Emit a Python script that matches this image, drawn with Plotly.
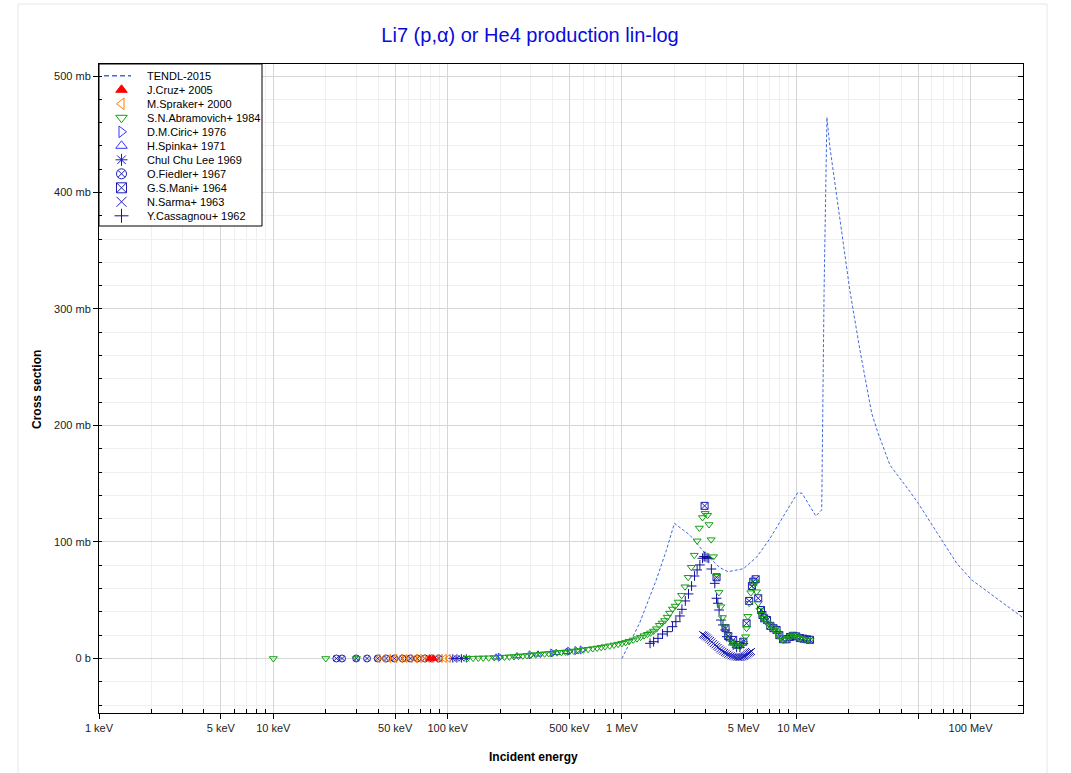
import plotly.graph_objects as go

# ---------------------------------------------------------------------------
# Li-7(p,alpha) / He-4 production: incident energy in eV, cross section in b
# ---------------------------------------------------------------------------

# TENDL-2015 evaluation
tendl_e = [1.00e6, 1.26e6, 1.57e6, 1.80e6, 2.00e6, 2.45e6, 3.05e6, 3.64e6, 4.06e6,
           4.97e6, 5.93e6, 7.07e6, 8.43e6, 9.62e6, 1.02e7, 1.08e7, 1.20e7, 1.296e7,
           1.40e7, 1.413e7, 1.445e7, 1.50e7, 1.527e7, 1.56e7, 2.03e7, 2.32e7, 2.71e7,
           2.95e7, 3.45e7, 3.94e7, 4.49e7, 5.01e7, 6.98e7, 8.33e7, 1.016e8, 1.294e8,
           1.92e8, 2.00e8]
tendl_xs = [0.0, 0.030, 0.067, 0.093, 0.116, 0.106, 0.089, 0.078, 0.0745,
            0.077, 0.087, 0.103, 0.122, 0.136, 0.1423, 0.1418, 0.130, 0.1223,
            0.1275, 0.202, 0.316, 0.4645, 0.4536, 0.439, 0.316, 0.2648, 0.2105,
            0.1933, 0.166, 0.1547, 0.1432, 0.1332, 0.0989, 0.0817, 0.0674, 0.056,
            0.0373, 0.035]

# J.Cruz+ 2005
cruz_e = [7.9e4, 8.3e4]
cruz_xs = [0.00002, 0.00003]

# M.Spraker+ 2000
spraker_e = [4.0e4, 4.3e4, 4.6e4, 5.0e4, 5.37e4, 5.7e4, 6.1e4, 6.5e4, 6.9e4, 7.3e4,
             7.7e4, 8.1e4, 8.6e4, 9.1e4, 9.6e4, 1.01e5]
spraker_xs = [0.000001, 0.000002, 0.000002, 0.000003, 0.000004, 0.000005, 0.000006,
              0.000008, 0.00001, 0.000012, 0.000015, 0.000018, 0.000022, 0.000027,
              0.000032, 0.00004]

# S.N.Abramovich+ 1984
abr_e = [1.0e4, 2.0e4, 3.0e4, 1.30e5, 1.40e5, 1.50e5, 1.60e5, 1.72e5, 1.85e5, 1.98e5,
         2.12e5, 2.26e5, 2.40e5, 2.55e5, 2.70e5, 2.85e5, 3.00e5, 3.20e5, 3.40e5, 3.60e5,
         3.80e5, 4.00e5, 4.25e5, 4.50e5, 4.75e5, 5.00e5, 5.30e5, 5.60e5, 6.00e5, 6.40e5,
         6.80e5, 7.20e5, 7.60e5, 8.00e5, 8.50e5, 9.00e5, 9.50e5,
         1.00e6, 1.05e6, 1.10e6, 1.16e6, 1.22e6, 1.28e6, 1.34e6, 1.40e6, 1.46e6, 1.52e6,
         1.58e6, 1.64e6, 1.70e6, 1.76e6, 1.82e6, 1.88e6, 1.95e6, 2.02e6, 2.10e6, 2.20e6,
         2.30e6, 2.40e6, 2.50e6, 2.60e6, 2.70e6, 2.78e6, 2.90e6, 3.00e6, 3.10e6, 3.16e6,
         3.25e6, 3.35e6, 3.49e6, 3.60e6, 3.69e6, 3.77e6, 3.89e6, 4.07e6, 4.25e6, 4.40e6,
         4.55e6, 4.75e6, 4.97e6, 5.12e6, 5.19e6, 5.28e6, 5.37e6, 5.49e6, 5.67e6, 5.79e6,
         5.92e6, 6.05e6, 6.19e6, 6.30e6, 6.47e6, 6.60e6, 6.80e6, 7.07e6, 7.30e6, 7.50e6,
         7.71e6, 7.90e6, 8.10e6, 8.42e6, 8.70e6, 9.00e6, 9.30e6, 9.61e6, 9.90e6, 1.02e7,
         1.05e7, 1.10e7, 1.15e7, 1.20e7]
abr_xs_mb = [0.0, 0.0, 0.0, 0.2, 0.3, 0.4, 0.5, 0.6, 0.8, 1.0,
             1.2, 1.4, 1.7, 2.0, 2.3, 2.6, 3.0, 3.3, 3.7, 4.0,
             4.3, 4.6, 5.0, 5.3, 5.6, 6.0, 6.4, 6.8, 7.4, 7.9,
             8.5, 9.0, 9.6, 10.2, 10.9, 11.6, 12.3,
             13.0, 13.8, 14.8, 15.9, 17.0, 18.3, 19.6, 20.8, 22.0, 23.6,
             25.6, 28.5, 30.5, 32.6, 35.5, 39.0, 42.5, 45.0, 48.5, 54.2,
             61.6, 69.7, 78.3, 88.7, 101.0, 112.0, 121.0, 124.6, 123.0, 115.0,
             102.0, 87.4, 70.5, 56.7, 44.5, 35.2, 27.3, 20.2, 14.4, 12.0,
             10.7, 10.1, 13.0, 18.7, 25.9, 36.2, 47.4, 56.5, 63.1, 65.9,
             57.3, 47.4, 41.6, 38.0, 34.5, 32.5, 30.5, 28.8, 26.5, 24.5,
             23.0, 20.5, 18.0, 15.9, 16.5, 17.3, 19.0, 20.2, 19.5, 18.2,
             17.3, 16.5, 16.0, 15.3]
abr_xs = [v / 1000.0 for v in abr_xs_mb]

# D.M.Ciric+ 1976
ciric_e = [2.0e5, 3.0e5, 4.0e5, 5.0e5, 5.5e5, 5.9e5]
ciric_xs = [0.0011, 0.0031, 0.0047, 0.0062, 0.0068, 0.0073]

# H.Spinka+ 1971
spinka_e = [1.9e5, 2.5e5, 3.3e5, 4.2e5, 4.8e5]
spinka_xs = [0.0010, 0.0021, 0.0036, 0.0050, 0.0058]

# Chul Chu Lee 1969
lee_e = [1.07e5, 1.13e5, 1.20e5, 1.28e5]
lee_xs = [0.00005, 0.00007, 0.0001, 0.00013]

# O.Fiedler+ 1967
fiedler_e = [2.30e4, 2.48e4, 2.99e4, 3.45e4, 3.97e4, 4.44e4, 4.95e4, 5.5e4, 6.1e4,
             6.7e4, 7.4e4, 8.1e4, 8.9e4]
fiedler_xs = [0.0000001, 0.0000002, 0.0000005, 0.000001, 0.000002, 0.000003,
              0.000004, 0.000006, 0.000008, 0.000011, 0.000015, 0.00002, 0.000026]

# G.S.Mani+ 1964
mani_e = [2.98e6, 3.49e6, 3.93e6, 4.07e6, 4.35e6, 4.64e6, 4.97e6, 5.19e6, 5.37e6,
          5.57e6, 5.67e6, 5.85e6, 6.05e6, 6.28e6, 6.40e6, 6.55e6, 6.80e6, 7.10e6,
          7.40e6, 7.71e6, 8.00e6, 8.40e6, 8.80e6, 9.20e6, 9.60e6, 1.00e7, 1.05e7,
          1.10e7, 1.15e7, 1.20e7]
mani_xs_mb = [131.0, 69.7, 26.0, 19.3, 15.9, 11.6, 14.4, 30.2, 49.4,
              62.2, 65.9, 68.0, 51.7, 41.6, 37.3, 34.5, 33.0, 28.0,
              26.0, 24.5, 20.0, 16.5, 16.5, 18.5, 19.5, 19.0, 17.5,
              17.0, 16.5, 16.0]
mani_xs = [v / 1000.0 for v in mani_xs_mb]

# N.Sarma+ 1963
sarma_e = [2.90e6, 2.95e6, 3.00e6, 3.05e6, 3.10e6, 3.16e6, 3.22e6, 3.28e6, 3.35e6,
           3.42e6, 3.49e6, 3.56e6, 3.64e6, 3.72e6, 3.80e6, 3.88e6, 3.96e6, 4.05e6,
           4.14e6, 4.24e6, 4.34e6, 4.44e6, 4.55e6, 4.65e6, 4.75e6, 4.85e6, 4.95e6,
           5.03e6, 5.10e6, 5.19e6, 5.28e6, 5.36e6, 5.44e6, 5.54e6]
sarma_xs_mb = [20.5, 20.0, 19.3, 18.5, 17.6, 16.5, 15.4, 14.2, 12.9,
               11.7, 10.5, 9.4, 8.2, 7.1, 6.1, 5.2, 4.4, 3.6,
               2.9, 2.3, 1.8, 1.4, 1.1, 0.9, 0.9, 1.1, 1.5,
               2.0, 2.5, 3.2, 4.0, 4.7, 5.4, 6.0]
sarma_xs = [v / 1000.0 for v in sarma_xs_mb]

# Y.Cassagnou+ 1962
cass_e = [1.45e6, 1.52e6, 1.61e6, 1.71e6, 1.82e6, 1.95e6, 2.04e6, 2.15e6, 2.21e6,
          2.31e6, 2.41e6, 2.51e6, 2.61e6, 2.70e6, 2.80e6, 2.90e6, 2.96e6, 3.00e6,
          3.08e6, 3.15e6, 3.26e6, 3.41e6, 3.49e6, 3.55e6, 3.61e6, 3.70e6, 3.80e6,
          3.91e6, 4.00e6, 4.18e6, 4.35e6, 4.55e6, 4.75e6, 4.97e6]
cass_xs_mb = [13.0, 14.4, 17.3, 21.0, 23.0, 27.3, 31.6, 36.5, 42.2,
              49.4, 55.4, 62.2, 70.8, 76.0, 80.3, 86.0, 87.5, 87.4,
              86.5, 86.0, 76.8, 64.5, 51.7, 47.4, 41.6, 33.0, 28.8,
              24.5, 18.7, 15.9, 11.6, 9.6, 9.6, 13.0]
cass_xs = [v / 1000.0 for v in cass_xs_mb]

# axis tick labels
x_tickvals = [1e3, 5e3, 1e4, 5e4, 1e5, 5e5, 1e6, 5e6, 1e7, 5e7, 1e8]
x_ticktext = ["1 keV", "5 keV", "10 keV", "50 keV", "100 keV", "500 keV",
              "1 MeV", "5 MeV", "10 MeV", "", "100 MeV"]
x_minorvals = [m * 10 ** d for d in range(3, 9) for m in (2, 3, 4, 6, 7, 8, 9)
               if m * 10 ** d <= 2e8]
y_tickvals = [0.0, 0.1, 0.2, 0.3, 0.4, 0.5]
y_ticktext = ["0 b", "100 mb", "200 mb", "300 mb", "400 mb", "500 mb"]

# ---------------------------------------------------------------------------
BLUE_LINE = "#4169e1"
DARK_BLUE = "#1c1cb4"
LIGHT_BLUE = "#3535ff"

series = [
    ("J.Cruz+ 2005", cruz_e, cruz_xs, "triangle-up", "#ff0000"),
    ("M.Spraker+ 2000", spraker_e, spraker_xs, "triangle-left-open", "#ff7f00"),
    ("S.N.Abramovich+ 1984", abr_e, abr_xs, "triangle-down-open", "#12a012"),
    ("D.M.Ciric+ 1976", ciric_e, ciric_xs, "triangle-right-open", LIGHT_BLUE),
    ("H.Spinka+ 1971", spinka_e, spinka_xs, "triangle-up-open", LIGHT_BLUE),
    ("Chul Chu Lee 1969", lee_e, lee_xs, "asterisk-open", DARK_BLUE),
    ("O.Fiedler+ 1967", fiedler_e, fiedler_xs, "circle-x-open", DARK_BLUE),
    ("G.S.Mani+ 1964", mani_e, mani_xs, "square-x-open", DARK_BLUE),
    ("N.Sarma+ 1963", sarma_e, sarma_xs, "x-thin-open", DARK_BLUE),
    ("Y.Cassagnou+ 1962", cass_e, cass_xs, "cross-thin-open", "#10109a"),
]

# plot area in pixels (figure is 1071 x 773)
W, H = 1071, 773
L, R, T, B = 99, 1023, 64, 713
X_RANGE = [3.0, 8.301]
Y_RANGE = [-0.0468, 0.5103]


def px(x):
    return (x - L) / (R - L)


def py(y):
    return (B - y) / (B - T)


fig = go.Figure()

fig.add_trace(go.Scatter(x=tendl_e, y=tendl_xs, mode="lines", showlegend=False,
                         line=dict(color=BLUE_LINE, width=1, dash="3px,2px")))

# draw order: older sets underneath
for name, xe, xs, sym, col in reversed(series):
    fig.add_trace(go.Scatter(
        x=xe, y=xs, mode="markers", name=name, showlegend=False,
        marker=dict(symbol=sym, size=7, color=col, line=dict(color=col, width=1))))

# right-hand mirrored tick marks (inside)
fig.add_trace(go.Scatter(x=[None], y=[None], yaxis="y3", showlegend=False,
                         hoverinfo="skip"))

# ---- legend panel (drawn on an overlay unit axis pair) ----
box_r = px(262)
box_b = py(226)
fig.add_trace(go.Scatter(
    x=[0, box_r, box_r, 0, 0], y=[1, 1, box_b, box_b, 1], xaxis="x2", yaxis="y2",
    mode="lines", fill="toself", fillcolor="white",
    line=dict(color="black", width=1), showlegend=False, hoverinfo="skip",
    cliponaxis=False))

row0, step = 75.8, 14.0
sym_x = px(121.5)
txt_x = px(144.5)
fig.add_trace(go.Scatter(
    x=[px(104), px(131)], y=[py(row0)] * 2, xaxis="x2", yaxis="y2", mode="lines",
    line=dict(color=BLUE_LINE, width=1.5, dash="5px,3px"), showlegend=False,
    hoverinfo="skip"))
fig.add_annotation(x=txt_x, y=py(row0), xref="paper", yref="paper",
                   text="TENDL-2015", showarrow=False, xanchor="left",
                   yanchor="middle", font=dict(size=11, color="black"))
for i, (name, xe, xs, sym, col) in enumerate(series):
    yy = py(row0 + step * (i + 1))
    fig.add_trace(go.Scatter(
        x=[sym_x], y=[yy], xaxis="x2", yaxis="y2", mode="markers", showlegend=False,
        hoverinfo="skip",
        marker=dict(symbol=sym, size=10, color=col, line=dict(color=col, width=1))))
    fig.add_annotation(x=txt_x, y=yy, xref="paper", yref="paper", text=name,
                       showarrow=False, xanchor="left", yanchor="middle",
                       font=dict(size=11, color="black"))

# axis titles
fig.add_annotation(x=px(37), y=py(390), xref="paper", yref="paper",
                   text="<b>Cross section</b>", textangle=-90, showarrow=False,
                   xanchor="center", yanchor="middle",
                   font=dict(size=12, color="black"))
fig.add_annotation(x=px(533), y=py(757), xref="paper", yref="paper",
                   text="<b>Incident energy</b>", showarrow=False,
                   xanchor="center", yanchor="middle",
                   font=dict(size=12, color="black"))

# light page border
fig.add_shape(type="rect", xref="paper", yref="paper", x0=px(18), x1=px(1047),
              y0=py(790), y1=py(4), line=dict(color="#e6e6e6", width=1),
              layer="below")

tickfont = dict(family="Arial, Liberation Sans, sans-serif", size=11, color="#222")
fig.update_layout(
    width=W, height=H,
    margin=dict(l=L, r=W - R, t=T, b=H - B),
    paper_bgcolor="white", plot_bgcolor="white",
    font=dict(family="Arial, Liberation Sans, sans-serif"),
    title=dict(text="Li7 (p,α) or He4 production lin-log", x=530 / W, xanchor="center",
               y=1 - 35 / H, yanchor="middle",
               font=dict(size=20, color="#0a0adc",
                         family="Arial, Liberation Sans, sans-serif")),
    xaxis=dict(type="log", range=X_RANGE, tickmode="array", tickvals=x_tickvals,
               ticktext=x_ticktext, ticks="outside", ticklen=5, tickcolor="black",
               showline=True, linecolor="black", linewidth=1, mirror=True,
               showgrid=True, gridcolor="#d6d6d6", gridwidth=1, zeroline=False,
               tickfont=tickfont,
               minor=dict(tickmode="array", tickvals=x_minorvals, ticks="inside",
                          ticklen=4, tickcolor="black", showgrid=True,
                          gridcolor="#efefef", gridwidth=1)),
    yaxis=dict(range=Y_RANGE, tickmode="array", tickvals=y_tickvals,
               ticktext=y_ticktext, ticks="outside", ticklen=5, tickcolor="black",
               showline=True, linecolor="black", linewidth=1, mirror=True,
               showgrid=True, gridcolor="#d6d6d6", gridwidth=1, zeroline=False,
               tickfont=tickfont,
               minor=dict(dtick=0.02, tick0=0, ticks="inside", ticklen=3,
                          tickcolor="black", showgrid=True, gridcolor="#efefef",
                          gridwidth=1)),
    yaxis3=dict(overlaying="y", side="right", range=Y_RANGE, tickmode="linear",
                tick0=0, dtick=0.02, ticks="inside", ticklen=5, tickcolor="black",
                showticklabels=False, showgrid=False, zeroline=False, showline=False),
    xaxis2=dict(overlaying="x", range=[0, 1], visible=False, fixedrange=True),
    yaxis2=dict(overlaying="y", range=[0, 1], visible=False, fixedrange=True),
)

fig.write_html("out.html")
